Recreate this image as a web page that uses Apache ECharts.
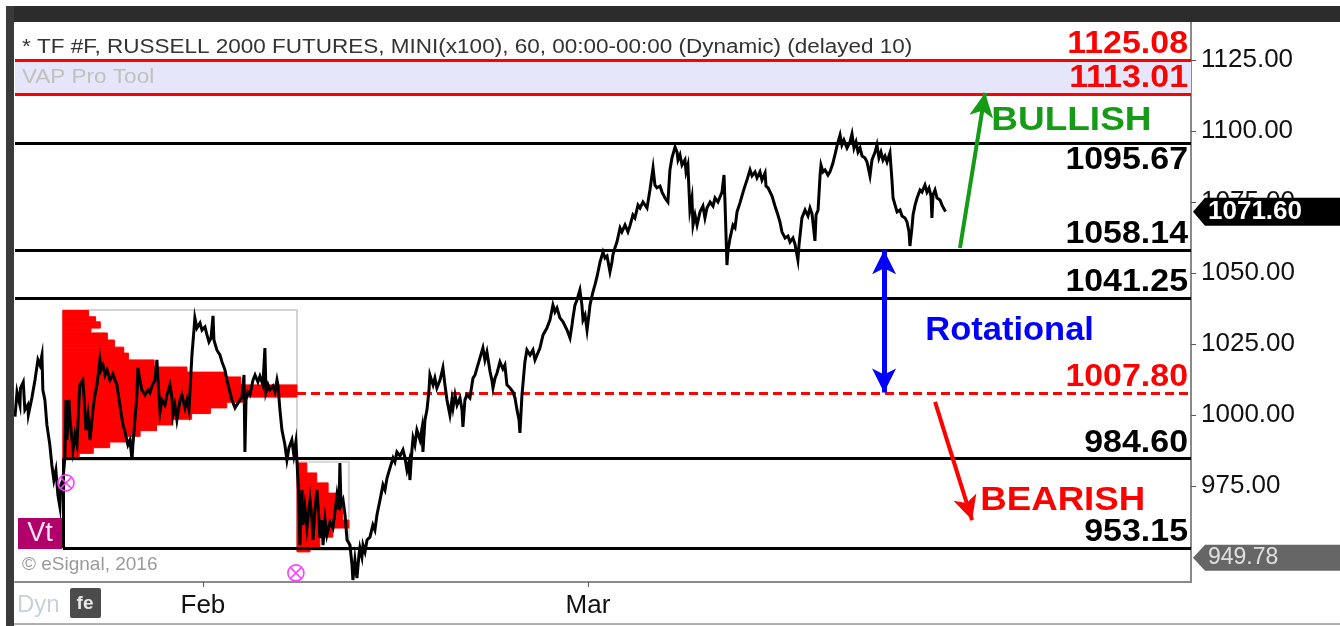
<!DOCTYPE html>
<html><head><meta charset="utf-8">
<script src="https://cdn.jsdelivr.net/npm/echarts@6/dist/echarts.min.js"></script>
<style>html,body{margin:0;padding:0;background:#fff;}#c{width:1340px;height:626px;}</style>
</head><body><div id="c"></div>
<script>
// ---------- DATA ----------
const yTickValues = [975, 1000, 1025, 1050, 1075, 1100, 1125];
const monthTickDays = [0, 21];            // trading days from Feb 1
const monthLabels = ['Feb', 'Mar'];

// hourly closes: [trading day (0 = Feb 1), price]
const pricePoints = [
[-10.25,999.4],[-10.14,1008.1],[-9.98,1003.5],[-9.95,1009.5],[-9.8,1011.6],[-9.76,1007.1],[-9.71,1001.8],[-9.55,1003.6],[-9.52,1000.1],[-9.33,1006.0],[-9.16,1012.3],[-9.0,1019.4],[-8.89,1017.6],[-8.78,1021.1],[-8.73,1008.8],[-8.62,1005.3],[-8.51,996.5],[-8.35,989.5],[-8.24,982.4],[-8.13,977.1],[-8.02,980.6],[-7.91,971.8],[-7.8,967.6],[-7.75,975.4],[-7.64,977.1],[-7.53,984.9],[-7.47,1005.3],[-7.42,991.2],[-7.31,1005.3],[-7.25,998.3],[-7.14,991.2],[-7.09,987.7],[-6.98,993.0],[-6.87,989.5],[-6.76,1005.3],[-6.71,1010.6],[-6.55,1012.3],[-6.49,1007.1],[-6.38,994.7],[-6.27,1000.0],[-6.16,991.2],[-6.0,1001.8],[-5.89,1007.1],[-5.78,1010.6],[-5.62,1019.4],[-5.56,1015.9],[-5.45,1017.6],[-5.34,1014.1],[-5.23,1015.9],[-5.07,1012.3],[-4.91,1014.4],[-4.69,1010.6],[-4.64,1008.1],[-4.53,1003.5],[-4.36,996.5],[-4.25,994.0],[-4.09,989.5],[-3.98,991.2],[-3.87,984.2],[-3.82,989.5],[-3.71,998.3],[-3.6,1007.1],[-3.55,1016.6],[-3.44,1012.3],[-3.33,1008.8],[-3.16,1007.1],[-3.0,1008.8],[-2.89,1007.8],[-2.78,1010.2],[-2.62,1012.3],[-2.51,1019.4],[-2.45,1012.3],[-2.34,1001.1],[-2.24,1005.3],[-2.07,1003.5],[-1.96,1007.1],[-1.8,1010.6],[-1.69,1006.0],[-1.64,1000.0],[-1.53,1003.5],[-1.42,998.3],[-1.25,1005.3],[-1.15,1007.1],[-0.98,1002.5],[-0.87,1005.3],[-0.76,1001.8],[-0.71,1008.1],[-0.6,1021.1],[-0.49,1029.9],[-0.44,1034.2],[-0.33,1030.6],[-0.16,1032.4],[-0.05,1029.9],[0.11,1031.0],[0.22,1028.2],[0.33,1025.7],[0.44,1027.1],[0.55,1034.9],[0.6,1026.4],[0.76,1022.9],[0.93,1021.1],[1.04,1018.7],[1.2,1015.9],[1.31,1012.3],[1.47,1008.1],[1.58,1005.3],[1.75,1002.5],[1.85,1001.8],[2.02,1005.3],[2.13,1006.3],[2.24,1014.1],[2.29,987.0],[2.35,1005.3],[2.45,1008.1],[2.56,1007.1],[2.73,1012.3],[2.84,1014.1],[3.0,1011.6],[3.11,1013.7],[3.27,1010.6],[3.38,1023.6],[3.44,1008.1],[3.55,1010.6],[3.65,1008.8],[3.82,1010.2],[3.93,1008.1],[4.04,1012.3],[4.09,1010.6],[4.2,1001.8],[4.31,994.7],[4.47,989.5],[4.58,984.2],[4.69,988.4],[4.85,991.2],[4.96,985.9],[5.07,990.5],[5.13,983.5],
[5.24,970.1],[5.29,954.2],[5.4,973.6],[5.45,961.3],[5.56,967.6],[5.67,960.2],[5.84,970.1],[5.95,963.0],[6.0,956.0],[6.11,966.6],[6.22,973.6],[6.33,963.0],[6.38,956.7],[6.49,963.0],[6.55,954.2],[6.66,963.0],[6.76,957.7],[6.93,962.3],[7.09,960.2],[7.2,965.9],[7.31,971.8],[7.42,966.6],[7.47,983.1],[7.53,968.3],[7.64,970.1],[7.75,964.8],[7.86,956.0],[8.02,954.2],[8.13,947.2],[8.18,941.9],[8.29,949.0],[8.4,942.6],[8.51,950.7],[8.56,953.2],[8.67,950.0],[8.73,954.2],[8.84,951.8],[8.95,956.0],[9.11,957.0],[9.27,961.3],[9.38,959.5],[9.49,964.8],[9.66,970.1],[9.82,975.4],[9.93,973.6],[10.04,977.8],[10.2,981.3],[10.37,984.9],[10.47,983.5],[10.58,987.0],[10.75,985.6],[10.91,987.7],[11.02,984.9],[11.13,980.6],[11.24,983.5],[11.29,977.1],[11.4,987.7],[11.46,991.9],[11.56,989.5],[11.67,994.7],[11.84,991.2],[11.95,995.4],[12.0,987.0],[12.11,998.3],[12.22,1001.8],[12.33,1008.8],[12.38,1014.1],[12.55,1010.6],[12.65,1013.0],[12.76,1009.5],[12.93,1012.3],[13.09,1016.6],[13.2,1010.6],[13.31,1005.3],[13.47,1000.0],[13.58,1005.3],[13.64,1002.5],[13.75,1007.1],[13.86,1003.5],[14.02,1006.0],[14.13,1001.8],[14.18,995.8],[14.29,1005.3],[14.4,1007.1],[14.56,1006.0],[14.67,1010.6],[14.73,1013.0],[14.84,1014.1],[14.95,1016.6],[15.11,1020.1],[15.27,1023.6],[15.38,1019.4],[15.49,1022.2],[15.66,1015.2],[15.76,1012.3],[15.82,1009.5],[15.93,1013.0],[16.04,1014.8],[16.2,1018.7],[16.36,1016.2],[16.47,1017.6],[16.58,1010.6],[16.75,1009.5],[16.91,1008.1],[17.02,1006.0],[17.13,1001.8],[17.24,998.3],[17.29,993.7],[17.4,1007.1],[17.45,1010.6],[17.56,1018.7],[17.67,1022.9],[17.84,1021.1],[18.0,1022.9],[18.11,1019.4],[18.22,1021.1],[18.38,1023.6],[18.55,1028.2],[18.76,1030.6],[18.93,1033.5],[19.09,1038.7],[19.2,1036.3],[19.31,1037.7],[19.47,1034.2],[19.64,1032.8],[19.86,1029.9],[20.02,1027.1],[20.13,1031.7],[20.18,1034.2],[20.29,1038.7],[20.4,1040.5],[20.56,1044.0],[20.67,1038.7],[20.73,1033.5],[20.84,1035.2],[20.95,1029.9],[21.05,1035.2],[21.11,1038.7],[21.27,1043.3],[21.38,1045.8],[21.49,1048.6],
[21.66,1053.9],[21.82,1057.4],[21.93,1055.3],[22.04,1056.0],[22.2,1050.4],[22.31,1053.9],[22.36,1056.4],[22.47,1058.8],[22.58,1060.9],[22.75,1065.9],[22.85,1064.5],[23.02,1066.9],[23.18,1064.5],[23.29,1066.6],[23.45,1070.4],[23.56,1069.4],[23.73,1073.9],[23.84,1072.9],[24.0,1075.0],[24.22,1072.9],[24.38,1079.2],[24.55,1087.0],[24.65,1081.0],[24.76,1080.0],[24.93,1080.6],[25.04,1078.5],[25.2,1076.4],[25.36,1075.0],[25.47,1086.3],[25.58,1090.5],[25.75,1094.4],[25.86,1092.6],[25.91,1089.8],[26.02,1091.6],[26.13,1088.0],[26.29,1089.8],[26.35,1085.6],[26.45,1088.0],[26.56,1072.2],[26.67,1076.4],[26.73,1066.9],[26.84,1070.4],[26.95,1066.9],[27.11,1071.5],[27.27,1073.6],[27.38,1069.4],[27.49,1072.9],[27.66,1075.0],[27.82,1073.6],[27.93,1076.4],[28.09,1075.0],[28.31,1078.5],[28.42,1084.5],[28.47,1075.7],[28.58,1052.8],[28.64,1058.1],[28.75,1062.3],[28.91,1066.9],[29.02,1065.9],[29.13,1071.5],[29.29,1074.7],[29.46,1078.5],[29.56,1080.6],[29.67,1082.7],[29.84,1086.3],[29.95,1084.2],[30.11,1085.6],[30.22,1083.5],[30.38,1085.6],[30.49,1082.7],[30.66,1085.2],[30.71,1080.6],[30.82,1080.0],[31.04,1077.1],[31.2,1073.6],[31.36,1070.4],[31.47,1068.0],[31.58,1064.5],[31.75,1062.3],[31.91,1063.0],[32.02,1060.9],[32.18,1062.3],[32.29,1060.2],[32.45,1054.6],[32.51,1059.8],[32.67,1069.4],[32.84,1072.2],[33.0,1070.1],[33.11,1072.9],[33.22,1070.8],[33.38,1061.3],[33.44,1070.4],[33.55,1072.2],[33.66,1084.5],[33.71,1088.0],[33.82,1085.6],[33.93,1086.3],[34.09,1084.5],[34.2,1085.6],[34.36,1088.7],[34.47,1091.6],[34.58,1094.7],[34.75,1098.6],[34.85,1095.1],[34.96,1096.8],[35.13,1094.0],[35.29,1096.1],[35.4,1099.0],[35.51,1094.0],[35.62,1096.1],[35.73,1092.6],[35.84,1094.0],[35.95,1091.2],[36.11,1090.5],[36.22,1089.1],[36.38,1084.2],[36.49,1089.8],[36.66,1092.6],[36.76,1095.1],[36.87,1090.5],[36.98,1092.6],[37.09,1089.8],[37.2,1091.2],[37.31,1089.1],[37.47,1092.3],[37.58,1082.7],[37.64,1076.4],[37.75,1073.9],[37.86,1071.5],[38.02,1072.2],[38.13,1070.1],[38.29,1069.4],[38.4,1068.0],[38.51,1064.5],[38.56,1059.5],[38.67,1065.9],[38.73,1070.4],[38.84,1073.9],[38.95,1076.4],[39.11,1079.2],[39.22,1078.5],[39.38,1081.0],[39.49,1078.5],[39.6,1079.9],[39.71,1077.1],[39.76,1069.4],[39.82,1077.5],[39.93,1079.2],[40.04,1076.4],[40.2,1075.7],[40.31,1073.9],[40.5,1071.6]
];

const levelValues = [1125.08, 1113.01, 1095.67, 1058.14, 1041.25, 1007.80, 984.60, 953.15];
const levelStartDays = [-10.25, -10.25, -10.25, -10.25, -10.25, 5.13, -7.64, -7.64];
const levelKinds = ['red', 'red', 'black', 'black', 'black', 'dash', 'black', 'black'];
const levelLabelSides = ['above', 'above', 'below', 'above', 'above', 'above', 'above', 'above'];
const bandRange = [1113.01, 1125.08];

// volume-at-price profiles: box = [startDay, endDay, lowPrice, highPrice]; rows = [low, high, relative volume]
const profile1Box = [-7.64, 5.13, 984.2, 1037.0];
const profile1Rows = [[1034.6,1036.8,0.11],[1032.8,1034.6,0.14],[1030.6,1032.8,0.16],[1028.9,1030.6,0.12],[1026.4,1028.9,0.19],[1023.9,1026.4,0.22],[1021.8,1023.9,0.26],[1019.4,1021.8,0.28],[1016.9,1019.4,0.39],[1015.1,1016.9,0.53],[1013.4,1015.1,0.69],[1010.6,1013.4,0.76],[1006.3,1010.6,1.0],[1004.5,1006.3,0.77],[1002.5,1004.5,0.70],[1000.5,1002.5,0.63],[998.5,1000.5,0.55],[996.5,998.5,0.47],[994.5,996.5,0.40],[992.5,994.5,0.33],[990.5,992.5,0.27],[988.5,990.5,0.20],[986.5,988.5,0.13],[984.5,986.5,0.07]];
const profile2Box = [5.13, 7.96, 952.5, 983.5];
const profile2Rows = [[979.6,983.1,0.19],[976.1,979.6,0.38],[972.5,976.1,0.60],[967.6,972.5,0.77],[963.0,967.6,0.88],[960.2,963.0,1.0],[957.0,960.2,0.69],[953.5,957.0,0.44],[951.8,953.5,0.25]];

const bracketDay = -7.64;                       // vertical edge joining 984.60 and 953.15
const crossMarks = [[-7.47, 976.1], [5.07, 944.4]];
const bullArrow = [[41.29, 1058.8], [42.66, 1113.4]];
const rotArrow = [[37.15, 1058.0], [37.15, 1007.9]];
const bearArrow = [[39.93, 1004.6], [41.95, 963.0]];
const noteTexts = ['BULLISH', 'Rotational', 'BEARISH'];
const notePositions = [[43.0, 1103.9], [39.4, 1029.9], [42.4, 970.1]];
const lastPrice = 1071.60;
const lowTag = 949.78;
const titleText = '* TF #F, RUSSELL 2000 FUTURES, MINI(x100), 60, 00:00-00:00 (Dynamic) (delayed 10)';

// ---------- CHART ----------
const X_MIN = -10.25, X_MAX = 53.89, Y_MIN = 941.2, Y_MAX = 1138.38;
const FONT = 'Liberation Sans, Arial, sans-serif';
const chart = echarts.init(document.getElementById('c'));

function profileData(box, rows) {
  return rows.map(r => [box[0], box[1], r[0], r[1], r[2]]);
}
const profileRender = (params, api) => {
  const a = api.coord([api.value(0), api.value(3)]);
  const b = api.coord([api.value(1), api.value(2)]);
  const w = (b[0] - a[0]) * api.value(4);
  return { type: 'rect', shape: { x: a[0], y: a[1], width: w, height: b[1] - a[1] },
    style: { fill: '#ff0000', stroke: '#ff0000', lineWidth: 1 } };
};
const boxRender = (params, api) => {
  const a = api.coord([api.value(0), api.value(3)]);
  const b = api.coord([api.value(1), api.value(2)]);
  return { type: 'rect', shape: { x: a[0], y: a[1], width: b[0] - a[0], height: b[1] - a[1] }, style: { fill: 'none', stroke: '#d4d4d4', lineWidth: 2 } };
};
const crossRender = (params, api) => {
  const c = api.coord([api.value(0), api.value(1)]);
  const r = 8, k = r * 0.7;
  return { type: 'group', children: [
    { type: 'circle', shape: { cx: c[0], cy: c[1], r: r }, style: { fill: 'none', stroke: '#ff3cff', lineWidth: 1.6 } },
    { type: 'line', shape: { x1: c[0] - k, y1: c[1] - k, x2: c[0] + k, y2: c[1] + k }, style: { stroke: '#ff3cff', lineWidth: 1.6 } },
    { type: 'line', shape: { x1: c[0] - k, y1: c[1] + k, x2: c[0] + k, y2: c[1] - k }, style: { stroke: '#ff3cff', lineWidth: 1.6 } }
  ] };
};

const levelStyle = k => k === 'red' ? { color: '#ff0000', width: 3, type: 'solid' }
  : k === 'dash' ? { color: '#ff0000', width: 3, type: [9, 5] }
  : { color: '#000000', width: 3, type: 'solid' };

const levelLines = levelValues.map((v, i) => [
  { coord: [levelStartDays[i], v], lineStyle: levelStyle(levelKinds[i]) },
  { coord: [X_MAX, v] }
]);
levelLines.push([{ coord: [bracketDay, levelValues[7]], lineStyle: { color: '#000', width: 3, type: 'solid' } }, { coord: [bracketDay, levelValues[6]] }]);

function arrowPair(a, color, width, both) {
  return [
    { coord: a[0], symbol: both ? 'arrow' : 'none', symbolSize: [18, 24], lineStyle: { color: color, width: width, type: 'solid' }, itemStyle: { color: color } },
    { coord: a[1], symbol: 'arrow', symbolSize: [18, 24], itemStyle: { color: color } }
  ];
}

chart.setOption({
  animation: false,
  backgroundColor: '#ffffff',
  grid: { left: 15, right: 149, top: 22, bottom: 44 },
  xAxis: {
    type: 'value', min: X_MIN, max: X_MAX,
    splitLine: { show: false },
    axisLine: { show: true, onZero: false, lineStyle: { color: '#8a8a8a', width: 2 } },
    axisTick: { show: true, customValues: monthTickDays, length: 5, lineStyle: { color: '#555' } },
    axisLabel: { customValues: monthTickDays, formatter: v => monthLabels[monthTickDays.indexOf(v)] || '', fontSize: 26, color: '#111', fontFamily: FONT, margin: 11 }
  },
  yAxis: {
    type: 'value', position: 'right', min: Y_MIN, max: Y_MAX, scale: true,
    splitLine: { show: false },
    axisLine: { show: true, onZero: false, lineStyle: { color: '#8a8a8a', width: 2 } },
    axisTick: { show: true, customValues: yTickValues, length: 5, lineStyle: { color: '#555' } },
    axisLabel: { customValues: yTickValues, formatter: v => v.toFixed(2), fontSize: 26, color: '#111', fontFamily: FONT, margin: 10 }
  },
  series: [
    { type: 'line', data: [], z: 1, silent: true,
      markArea: { silent: true, itemStyle: { color: '#e6e6fa' }, data: [[{ coord: [X_MIN, bandRange[0]] }, { coord: [X_MAX, bandRange[1]] }]] } },
    { type: 'custom', z: 2, silent: true, renderItem: boxRender, data: [profile1Box, profile2Box], clip: true },
    { type: 'custom', z: 3, silent: true, renderItem: profileRender, data: profileData(profile1Box, profile1Rows).concat(profileData(profile2Box, profile2Rows)) },
    { type: 'line', data: [], z: 4, silent: true,
      markLine: { silent: true, symbol: 'none', animation: false, label: { show: false }, data: levelLines } },
    { type: 'line', z: 6, data: pricePoints, showSymbol: false, symbol: 'none', silent: true,
      lineStyle: { color: '#000', width: 3, join: 'miter' } },
    { type: 'custom', z: 7, silent: true, renderItem: crossRender, data: crossMarks, clip: false },
    { type: 'line', data: [], z: 8, silent: true,
      markLine: { silent: true, animation: false, label: { show: false }, lineStyle: { type: 'solid' },
        data: [arrowPair(bullArrow, '#169b16', 4, false), arrowPair(rotArrow, '#0000ff', 5, true), arrowPair(bearArrow, '#ff0000', 4, false)] } }
  ]
});

function px(d, p) { return chart.convertToPixel({ xAxisIndex: 0, yAxisIndex: 0 }, [d, p]); }
const plotRight = px(X_MAX, 1000)[0];
const g = [];
// window frame
g.push({ type: 'rect', shape: { x: 6, y: 6, width: 1334, height: 16 }, style: { fill: '#2c2c2c' }, z: 100 });
g.push({ type: 'rect', shape: { x: 6, y: 6, width: 8, height: 620 }, style: { fill: '#3a3a3a' }, z: 100 });
g.push({ type: 'rect', shape: { x: 14, y: 623, width: 1326, height: 2 }, style: { fill: '#b0b0b0' }, z: 100 });
// header texts
g.push({ type: 'text', x: 22, y: 47, scaleX: 1.125, z: 100, style: { text: titleText, font: '20px ' + FONT, fill: '#333', verticalAlign: 'middle' } });
g.push({ type: 'text', x: 22, y: 77, scaleX: 1.125, z: 100, style: { text: 'VAP Pro Tool', font: '20px ' + FONT, fill: '#c0c0c0', verticalAlign: 'middle' } });
// level labels
levelValues.forEach((v, i) => {
  const y = px(0, v)[1];
  const red = levelKinds[i] !== 'black';
  g.push({ type: 'text', x: plotRight - 3, y: levelLabelSides[i] === 'above' ? y - 16 : y + 17, scaleX: 1.06, z: 100,
    style: { text: v.toFixed(2), font: 'bold 32px ' + FONT, fill: red ? '#ff0000' : '#000', align: 'right', verticalAlign: 'middle' } });
});
// notes
const noteColors = ['#169b16', '#0000ff', '#ff0000'];
const noteScale = [1.12, 1.045, 1.11];
noteTexts.forEach((t, i) => {
  const p = px(notePositions[i][0], notePositions[i][1]);
  g.push({ type: 'text', x: p[0], y: p[1] + 1, scaleX: noteScale[i], z: 100, style: { text: t, font: 'bold 33px ' + FONT, fill: noteColors[i], verticalAlign: 'middle' } });
});
// price tags on the axis
function tag(value, h, fill, textFill, font) {
  const y = px(0, value)[1];
  const x0 = plotRight + 2;
  g.push({ type: 'polygon', z: 110, shape: { points: [[x0, y], [x0 + 12, y - h], [1340, y - h], [1340, y + h], [x0 + 12, y + h]] }, style: { fill: fill } });
  g.push({ type: 'text', z: 111, x: x0 + 15, y: y, style: { text: value.toFixed(2), font: font, fill: textFill, verticalAlign: 'middle' } });
}
tag(lastPrice, 14, '#000', '#fff', 'bold 26px ' + FONT);
tag(lowTag, 13, '#666', '#e0e0e0', '23px ' + FONT);
// bottom-left badges
g.push({ type: 'rect', z: 100, shape: { x: 18, y: 518, width: 44, height: 31 }, style: { fill: '#b1006a' } });
g.push({ type: 'text', z: 101, x: 40, y: 534, style: { text: 'Vt', font: '27px ' + FONT, fill: '#fbe6f2', align: 'center', verticalAlign: 'middle' } });
g.push({ type: 'text', z: 100, x: 22, y: 565, style: { text: '\u00A9 eSignal, 2016', font: '19px ' + FONT, fill: '#9a9a9a', verticalAlign: 'middle' } });
g.push({ type: 'text', z: 100, x: 17, y: 605, style: { text: 'Dyn', font: '24px ' + FONT, fill: '#c9cfdc', verticalAlign: 'middle' } });
g.push({ type: 'rect', z: 100, shape: { x: 70, y: 588, width: 31, height: 30, r: 2 }, style: { fill: '#4c4c4c' } });
g.push({ type: 'text', z: 101, x: 85, y: 604, style: { text: 'fe', font: 'bold 19px ' + FONT, fill: '#e8e8e8', align: 'center', verticalAlign: 'middle' } });
chart.setOption({ graphic: g });
</script></body></html>
